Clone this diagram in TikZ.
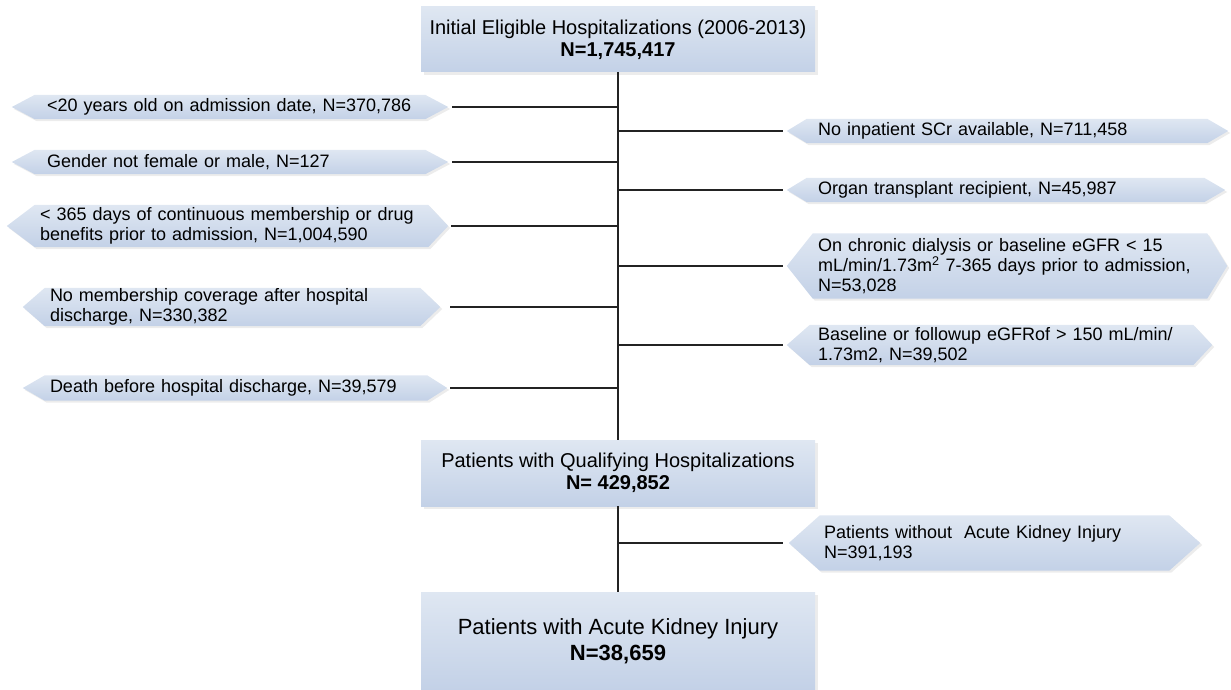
\documentclass[tikz,border=0pt]{standalone}
\usepackage{fontspec}
\setmainfont{Liberation Sans}
\usetikzlibrary{backgrounds,shadows}

\definecolor{boxtop}{RGB}{223,231,242}
\definecolor{boxbot}{RGB}{195,209,231}
\definecolor{linegray}{RGB}{35,35,35}

\tikzset{
	mainbox/.style={rectangle, top color=boxtop, bottom color=boxbot, align=center,
		minimum width=394pt, inner sep=0pt,
		drop shadow={shadow xshift=3pt, shadow yshift=-3pt, opacity=0.15}},
	sidebox/.style={rectangle, align=left, inner ysep=0pt, font=\fontsize{18}{20}\selectfont},
	hexfill/.style={top color=boxtop, bottom color=boxbot,
		drop shadow={shadow xshift=2pt, shadow yshift=-2pt, opacity=0.15}},
	link/.style={draw=linegray, line width=1.5pt}
}

\begin{document}
\begin{tikzpicture}[x=1pt, y=-1pt]

	\useasboundingbox (0,0) rectangle (1231,690);

	% Main boxes
	\node[mainbox, minimum height=65pt, font=\fontsize{20}{22}\selectfont] (init) at (618,39.5)
		{Initial Eligible Hospitalizations (2006-2013)\\\textbf{N=1,745,417}};
	\node[mainbox, minimum height=66pt, font=\fontsize{20}{22}\selectfont] (qual) at (618,473)
		{Patients with Qualifying Hospitalizations\\\textbf{N= 429,852}};
	\node[mainbox, minimum height=98pt, font=\fontsize{22}{26}\selectfont] (aki) at (618,641)
		{Patients with Acute Kidney Injury\\\textbf{N=38,659}};

	% Exclusions, left
	\node[sidebox, minimum width=436pt, text width=366pt, inner xsep=35pt, minimum height=24pt] (l1) at (230,107)
		{<20 years old on admission date, N=370,786};
	\node[sidebox, minimum width=436pt, text width=366pt, inner xsep=35pt, minimum height=24pt] (l2) at (230,162)
		{Gender not female or male, N=127};
	\node[sidebox, minimum width=441pt, text width=375pt, inner xsep=33pt, minimum height=42pt] (l3) at (227.5,226)
		{< 365 days of continuous membership or drug\\benefits prior to admission, N=1,004,590};
	\node[sidebox, minimum width=417pt, text width=363pt, inner xsep=27pt, minimum height=38pt] (l4) at (231.5,307)
		{No membership coverage after hospital\\discharge, N=330,382};
	\node[sidebox, minimum width=424pt, text width=370pt, inner xsep=27pt, minimum height=25pt] (l5) at (235,388)
		{Death before hospital discharge, N=39,579};

	% Exclusions, right
	\node[sidebox, minimum width=441pt, text width=379pt, inner xsep=31pt, minimum height=24pt] (r1) at (1007.5,131)
		{No inpatient SCr available, N=711,458};
	\node[sidebox, minimum width=438pt, text width=376pt, inner xsep=31pt, minimum height=24pt] (r2) at (1006,190)
		{Organ transplant recipient, N=45,987};
	\node[sidebox, minimum width=440pt, text width=378pt, inner xsep=31pt, minimum height=65pt] (r3) at (1007,266)
		{On chronic dialysis or baseline eGFR < 15\\mL/min/1.73m\textsuperscript{2} 7-365 days prior to admission,\\N=53,028};
	\node[sidebox, minimum width=425pt, text width=363pt, inner xsep=31pt, minimum height=40pt] (r4) at (999.5,345)
		{Baseline or followup eGFRof > 150 mL/min/\\1.73m2, N=39,502};
	\node[sidebox, minimum width=411pt, text width=341pt, inner xsep=35pt, minimum height=55pt] (r5) at (994.5,543)
		{Patients without\ \ Acute Kidney Injury\\N=391,193};

	% Hexagon backgrounds
	\begin{scope}[on background layer]
		\shade[hexfill] (l1.west) -- ([xshift=23pt]l1.north west) -- ([xshift=-23pt]l1.north east) -- (l1.east) -- ([xshift=-23pt]l1.south east) -- ([xshift=23pt]l1.south west) -- cycle;
		\shade[hexfill] (l2.west) -- ([xshift=23pt]l2.north west) -- ([xshift=-23pt]l2.north east) -- (l2.east) -- ([xshift=-23pt]l2.south east) -- ([xshift=23pt]l2.south west) -- cycle;
		\shade[hexfill] (l3.west) -- ([xshift=28pt]l3.north west) -- ([xshift=-20pt]l3.north east) -- (l3.east) -- ([xshift=-20pt]l3.south east) -- ([xshift=28pt]l3.south west) -- cycle;
		\shade[hexfill] (l4.west) -- ([xshift=22pt]l4.north west) -- ([xshift=-20pt]l4.north east) -- (l4.east) -- ([xshift=-20pt]l4.south east) -- ([xshift=22pt]l4.south west) -- cycle;
		\shade[hexfill] (l5.west) -- ([xshift=22pt]l5.north west) -- ([xshift=-20pt]l5.north east) -- (l5.east) -- ([xshift=-20pt]l5.south east) -- ([xshift=22pt]l5.south west) -- cycle;
		\shade[hexfill] (r1.west) -- ([xshift=20pt]r1.north west) -- ([xshift=-21pt]r1.north east) -- (r1.east) -- ([xshift=-21pt]r1.south east) -- ([xshift=20pt]r1.south west) -- cycle;
		\shade[hexfill] (r2.west) -- ([xshift=20pt]r2.north west) -- ([xshift=-21pt]r2.north east) -- (r2.east) -- ([xshift=-21pt]r2.south east) -- ([xshift=20pt]r2.south west) -- cycle;
		\shade[hexfill] (r3.west) -- ([xshift=26pt]r3.north west) -- ([xshift=-20pt]r3.north east) -- (r3.east) -- ([xshift=-20pt]r3.south east) -- ([xshift=26pt]r3.south west) -- cycle;
		\shade[hexfill] (r4.west) -- ([xshift=23pt]r4.north west) -- ([xshift=-19pt]r4.north east) -- (r4.east) -- ([xshift=-19pt]r4.south east) -- ([xshift=23pt]r4.south west) -- cycle;
		\shade[hexfill] (r5.west) -- ([xshift=31pt]r5.north west) -- ([xshift=-31pt]r5.north east) -- (r5.east) -- ([xshift=-31pt]r5.south east) -- ([xshift=31pt]r5.south west) -- cycle;
	\end{scope}

	% Spine
	\draw[link] (init.south) -- (qual.north);
	\draw[link] (qual.south) -- (aki.north);

	% Branches
	\draw[link] ([xshift=4pt]l1.east) -- (l1.east -| init.south);
	\draw[link] ([xshift=4pt]l2.east) -- (l2.east -| init.south);
	\draw[link] ([xshift=3pt]l3.east) -- (l3.east -| init.south);
	\draw[link] ([xshift=10pt]l4.east) -- (l4.east -| init.south);
	\draw[link] ([xshift=3pt]l5.east) -- (l5.east -| init.south);
	\draw[link] (r1.west -| init.south) -- ([xshift=-4pt]r1.west);
	\draw[link] (r2.west -| init.south) -- ([xshift=-4pt]r2.west);
	\draw[link] (r3.west -| init.south) -- ([xshift=-4pt]r3.west);
	\draw[link] (r4.west -| init.south) -- ([xshift=-4pt]r4.west);
	\draw[link] (r5.west -| qual.south) -- ([xshift=-6pt]r5.west);

\end{tikzpicture}
\end{document}
